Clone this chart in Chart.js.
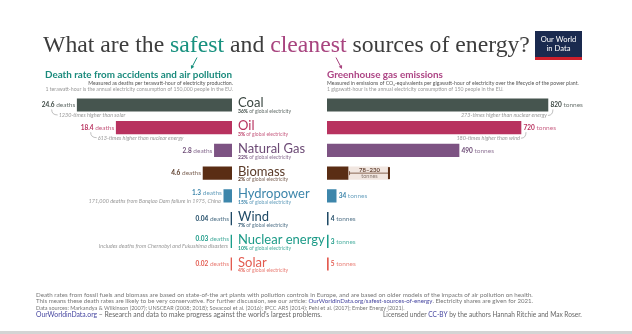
<!DOCTYPE html>
<html>
<head>
<meta charset="utf-8">
<script src="https://cdn.jsdelivr.net/npm/chart.js@4.4.1/dist/chart.umd.min.js"></script>
<style>
  html, body { margin: 0; padding: 0; background: #fff; }
  #wrap { position: relative; width: 632px; height: 334px; overflow: hidden; }
  #wrap canvas { position: absolute; left: 0; top: 0; }
</style>
</head>
<body>
<div id="wrap">
  <canvas id="deathChart" width="632" height="334"></canvas>
  <canvas id="ghgChart" width="632" height="334"></canvas>
</div>
<script>
// energy sources, top to bottom
const sources = ["Coal", "Oil", "Natural Gas", "Biomass", "Hydropower", "Wind", "Nuclear energy", "Solar"];
const shares = ["36%", "3%", "22%", "2%", "15%", "7%", "10%", "4%"];

// deaths per TWh
const deathRates = [24.6, 18.4, 2.8, 4.6, 1.3, 0.04, 0.03, 0.02];
// tonnes CO2-eq per GWh (biomass: low end, range below)
const emissions = [820, 720, 490, 78, 34, 4, 3, 5];
const biomassRange = [78, 230];

const deathNotes = ["1230-times higher than solar", "613-times higher than nuclear energy", "", "",
  "171,000 deaths from Banqiao Dam failure in 1975, China", "",
  "Includes deaths from Chernobyl and Fukushima disasters", ""];
const emissionNotes = ["273-times higher than nuclear energy", "180-times higher than wind", "", "", "", "", "", ""];

const barColors = ["#46554f", "#b8325f", "#7d5383", "#5a2d14", "#3d86ab", "#1f4a66", "#1b9e8b", "#e35b50"];
const textColors = ["#3b4742", "#b8325f", "#6c4a75", "#5a3a28", "#3d86ab", "#1f4a66", "#1b9a87", "#e35b50"];

const FAMILY = "Lato, 'Noto Sans', sans-serif";
const SERIF = "'Liberation Serif', 'DejaVu Serif', serif";

function fontStr(r, k) {
  return `${r.style || "normal"} ${r.weight || 400} ${(r.size * k).toFixed(2)}px ${r.family || FAMILY}`;
}

function runsWidth(ctx, runs, k) {
  let w = 0;
  runs.forEach((r) => { ctx.font = fontStr(r, k); w += ctx.measureText(r.text).width; });
  return w;
}

// draw a line of mixed-style text; optional width rescales the font sizes
function drawRuns(ctx, runs, x, y, opts = {}) {
  let k = 1;
  if (opts.width) k = opts.width / runsWidth(ctx, runs, 1);
  const total = runsWidth(ctx, runs, k);
  let cx = x;
  if (opts.align === "right") cx = x - total;
  if (opts.align === "center") cx = x - total / 2;
  ctx.textAlign = "left";
  ctx.textBaseline = "alphabetic";
  runs.forEach((r) => {
    ctx.font = fontStr(r, k);
    ctx.fillStyle = r.color;
    ctx.globalAlpha = r.alpha ?? 1;
    ctx.fillText(r.text, cx, y);
    cx += ctx.measureText(r.text).width;
    ctx.globalAlpha = 1;
  });
  return { left: cx - total, right: cx };
}

function arrow(ctx, x1, y1, x2, y2, color) {
  const a = Math.atan2(y2 - y1, x2 - x1);
  ctx.strokeStyle = color;
  ctx.fillStyle = color;
  ctx.lineWidth = 1;
  ctx.beginPath();
  ctx.moveTo(x1, y1);
  ctx.lineTo(x2 - Math.cos(a) * 2, y2 - Math.sin(a) * 2);
  ctx.stroke();
  ctx.beginPath();
  ctx.moveTo(x2, y2);
  ctx.lineTo(x2 - 4 * Math.cos(a - 0.5), y2 - 4 * Math.sin(a - 0.5));
  ctx.lineTo(x2 - 4 * Math.cos(a + 0.5), y2 - 4 * Math.sin(a + 0.5));
  ctx.closePath();
  ctx.fill();
}

// title, logo, panel headings and footer
const pageText = {
  id: "pageText",
  afterDraw(chart) {
    const ctx = chart.ctx;
    ctx.save();
    const grey = "#3d3d3d";
    drawRuns(ctx, [
      { text: "What are the ", size: 22, family: SERIF, color: grey },
      { text: "safest", size: 22, family: SERIF, color: "#18917f" },
      { text: " and ", size: 22, family: SERIF, color: grey },
      { text: "cleanest", size: 22, family: SERIF, color: "#a8447f" },
      { text: " sources of energy?", size: 22, family: SERIF, color: grey }
    ], 43, 51.7, { width: 487 });

    // logo
    ctx.fillStyle = "#1a2a4f";
    ctx.fillRect(535, 31, 47, 26);
    ctx.fillStyle = "#ce1f2b";
    ctx.fillRect(535, 57, 47, 3);
    drawRuns(ctx, [{ text: "Our World", size: 7.6, color: "#fff" }], 558.5, 42, { align: "center" });
    drawRuns(ctx, [{ text: "in Data", size: 7.6, color: "#fff" }], 558.5, 51, { align: "center" });

    arrow(ctx, 197, 57.5, 191, 69, "#18917f");
    arrow(ctx, 336, 57.5, 342, 69, "#a8447f");

    // left heading
    drawRuns(ctx, [{ text: "Death rate from accidents and air pollution", size: 9, weight: 700, color: "#1a8a7c" }],
      232, 77.5, { align: "right", width: 187 });
    drawRuns(ctx, [{ text: "Measured as deaths per terawatt-hour of electricity production.", size: 5, color: "#555" }],
      233, 84.5, { align: "right", width: 145 });
    drawRuns(ctx, [{ text: "1 terawatt-hour is the annual electricity consumption of 150,000 people in the EU.", size: 5, color: "#999" }],
      233, 90.5, { align: "right", width: 188 });

    // right heading
    drawRuns(ctx, [{ text: "Greenhouse gas emissions", size: 9, weight: 700, color: "#ad4585" }],
      327, 78, { width: 116 });
    drawRuns(ctx, [{ text: "Measured in emissions of CO\u2082-equivalents per gigawatt-hour of electricity over the lifecycle of the power plant.", size: 5, color: "#555" }],
      327, 84.5, { width: 252 });
    drawRuns(ctx, [{ text: "1 gigawatt-hour is the annual electricity consumption of 150 people in the EU.", size: 5, color: "#999" }],
      327, 90.5, { width: 177 });

    // footer
    const fc = "#777", link = "#4646a0";
    drawRuns(ctx, [{ text: "Death rates from fossil fuels and biomass are based on state-of-the art plants with pollution controls in Europe, and are based on older models of the impacts of air pollution on health.", size: 5.3, color: fc }],
      36, 297, { width: 497 });
    drawRuns(ctx, [
      { text: "This means these death rates are likely to be very conservative. For further discussion, see our article: ", size: 5.3, color: fc },
      { text: "OurWorldinData.org/safest-sources-of-energy", size: 5.3, color: link },
      { text: ". Electricity shares are given for 2021.", size: 5.3, color: fc }
    ], 36, 303, { width: 497 });
    drawRuns(ctx, [{ text: "Data sources: Markandya & Wilkinson (2007); UNSCEAR (2008; 2018); Sovacool et al. (2016); IPCC AR5 (2014); Pehl et al. (2017); Ember Energy (2021).", size: 5.6, color: fc }],
      36, 310, { width: 369 });
    drawRuns(ctx, [
      { text: "OurWorldinData.org", size: 5.6, color: link },
      { text: " \u2013 Research and data to make progress against the world\u2019s largest problems.", size: 5.6, color: "#666" }
    ], 36, 317, { width: 286 });
    drawRuns(ctx, [
      { text: "Licensed under ", size: 5.6, color: "#666" },
      { text: "CC-BY", size: 5.6, color: link },
      { text: " by the authors Hannah Ritchie and Max Roser.", size: 5.6, color: "#666" }
    ], 383, 317, { width: 199 });

    ctx.fillStyle = "#d4d4d4";
    ctx.fillRect(0, 331, 632, 3);
    ctx.restore();
  }
};

// death-rate values, notes and the source names in the middle
const deathLabels = {
  id: "deathLabels",
  afterDatasetsDraw(chart) {
    const ctx = chart.ctx;
    const bars = chart.getDatasetMeta(0).data;
    ctx.save();
    bars.forEach((bar, i) => {
      const cy = bar.y;
      const left = Math.min(bar.x, bar.base);
      const right = Math.max(bar.x, bar.base);
      const c = textColors[i];
      const noteBelow = deathNotes[i] && i > 1;
      const ly = noteBelow ? cy - 0.5 : cy + 2.3;
      const pos = drawRuns(ctx, [
        { text: String(deathRates[i]), size: 6.5, weight: 700, color: c },
        { text: " deaths", size: 6.5, color: c, alpha: 0.8 }
      ], left - 2, ly, { align: "right" });

      if (deathNotes[i] && i <= 1) {
        const sx = pos.left + 10;
        ctx.strokeStyle = "#a5a5a5";
        ctx.lineWidth = 0.7;
        ctx.beginPath();
        ctx.moveTo(sx, cy + 4.5);
        ctx.quadraticCurveTo(sx, cy + 10, sx + 6, cy + 10);
        ctx.stroke();
        drawRuns(ctx, [{ text: deathNotes[i], size: 5.5, style: "italic", color: "#999" }], sx + 7, cy + 12);
      } else if (deathNotes[i]) {
        drawRuns(ctx, [{ text: deathNotes[i], size: 5.5, style: "italic", color: "#999" }], left - 3, cy + 7, { align: "right" });
      }

      // source name + share of electricity
      const nx = right + 6;
      drawRuns(ctx, [{ text: sources[i], size: 13, color: c }], nx, cy + 2.5);
      drawRuns(ctx, [
        { text: shares[i], size: 5, weight: 700, color: c },
        { text: " of global electricity", size: 5, color: c, alpha: 0.8 }
      ], nx, cy + 8.3);
    });
    ctx.restore();
  }
};

// emission values, notes and the biomass range
const ghgLabels = {
  id: "ghgLabels",
  afterDatasetsDraw(chart) {
    const ctx = chart.ctx;
    const xs = chart.scales.x;
    const bars = chart.getDatasetMeta(0).data;
    ctx.save();
    bars.forEach((bar, i) => {
      const cy = bar.y;
      const end = Math.max(bar.x, bar.base);
      const c = textColors[i];
      if (i === 3) {
        const x1 = xs.getPixelForValue(biomassRange[0]);
        const x2 = xs.getPixelForValue(biomassRange[1]);
        ctx.strokeStyle = barColors[i];
        ctx.lineWidth = 0.7;
        ctx.beginPath();
        ctx.moveTo(x1 + 1.5, cy);
        ctx.lineTo(x2, cy);
        ctx.moveTo(x1 + 1.5, cy - 2);
        ctx.lineTo(x1 + 1.5, cy + 2);
        ctx.stroke();
        ctx.fillStyle = barColors[i];
        ctx.fillRect(x2 - 1, cy - 6, 2, 12);
        const mid = (x1 + x2) / 2 + 1;
        drawRuns(ctx, [{ text: biomassRange[0] + "\u2013" + biomassRange[1], size: 6, weight: 700, color: "#6a4a3a" }], mid, cy - 1.5, { align: "center" });
        drawRuns(ctx, [{ text: "tonnes", size: 5.5, color: "#8a7a72" }], mid, cy + 5, { align: "center" });
        return;
      }
      drawRuns(ctx, [
        { text: String(emissions[i]), size: 6.5, weight: 700, color: c },
        { text: " tonnes", size: 6.5, color: c, alpha: 0.75 }
      ], end + 2.5, cy + 2.3);

      if (emissionNotes[i]) {
        ctx.strokeStyle = "#a5a5a5";
        ctx.lineWidth = 0.7;
        ctx.beginPath();
        ctx.moveTo(end + 5, cy + 4.5);
        ctx.quadraticCurveTo(end + 5, cy + 10.5, end, cy + 10.5);
        ctx.stroke();
        drawRuns(ctx, [{ text: emissionNotes[i], size: 5.5, style: "italic", color: "#999" }], end - 1, cy + 12.5, { align: "right" });
      }
    });
    ctx.restore();
  }
};

const baseOptions = (padding, xScale) => ({
  indexAxis: "y",
  responsive: false,
  animation: false,
  devicePixelRatio: 1,
  layout: { padding },
  plugins: { legend: { display: false }, tooltip: { enabled: false } },
  scales: { x: xScale, y: { display: false, grid: { display: false } } }
});

new Chart(document.getElementById("deathChart"), {
  type: "bar",
  data: {
    labels: sources,
    datasets: [{
      data: deathRates,
      backgroundColor: barColors,
      barThickness: 12.5,
      minBarLength: 1,
      borderWidth: 0
    }]
  },
  options: baseOptions(
    { left: 0, right: 400, top: 93.6, bottom: 58.6 },
    { display: false, reverse: true, min: 0, max: 36.87 }
  ),
  plugins: [pageText, deathLabels]
});

new Chart(document.getElementById("ghgChart"), {
  type: "bar",
  data: {
    labels: sources,
    datasets: [
      {
        data: emissions,
        backgroundColor: barColors,
        barThickness: 12.5,
        minBarLength: 1.2,
        borderWidth: 0,
        grouped: false
      },
      {
        data: sources.map((s, i) => (i === 3 ? biomassRange : null)),
        backgroundColor: "#f1e6e0",
        barThickness: 12.5,
        borderWidth: 0,
        grouped: false
      }
    ]
  },
  options: baseOptions(
    { left: 327, right: 0, top: 93.6, bottom: 58.6 },
    { display: false, min: 0, max: 1132 }
  ),
  plugins: [ghgLabels]
});
</script>
</body>
</html>
